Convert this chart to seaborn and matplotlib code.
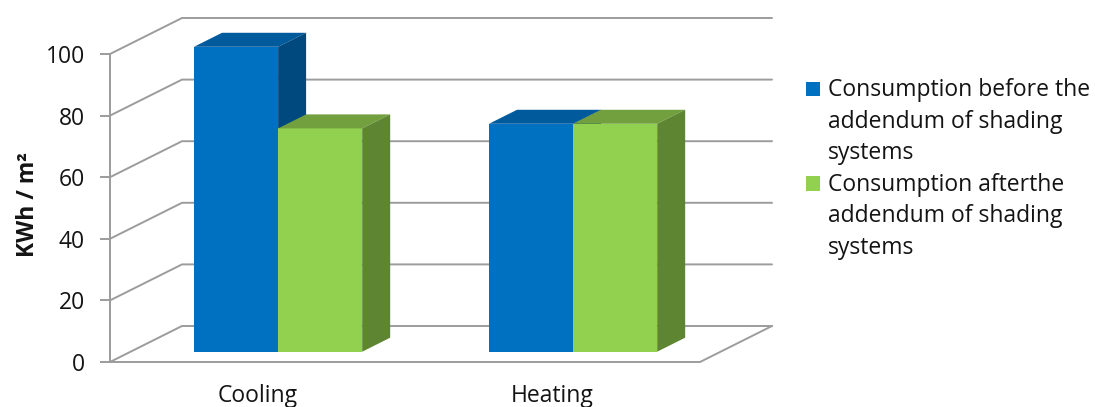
import matplotlib
matplotlib.use("Agg")
import matplotlib.pyplot as plt
from matplotlib.patches import Polygon, Rectangle
from matplotlib.lines import Line2D
from matplotlib.transforms import IdentityTransform
import numpy as np
import pandas as pd
import seaborn as sns

# ---- data ----
categories = ["Cooling", "Heating"]
series = ["Consumption before the addendum of shading systems",
          "Consumption afterthe addendum of shading systems"]
legend_lines = [["Consumption before the", "addendum of shading", "systems"],
                ["Consumption afterthe", "addendum of shading", "systems"]]
before = [99, 74]
after = [72.5, 74]
y_ticks = [0, 20, 40, 60, 80, 100]
y_label = "KWh / m²"

# ---- styling ----
front_colors = ["#0070C0", "#92D050"]
top_colors = ["#005A9C", "#72A03E"]
side_colors = ["#00497F", "#5E8532"]
grid_color = "#9C9C9C"
text_color = "#141414"
font_size = 16.5

df = pd.DataFrame({
    "Use": categories * 2,
    "Series": [series[0]] * len(categories) + [series[1]] * len(categories),
    "KWh": before + after,
})

sns.set_theme(style="white")
plt.rcParams["font.family"] = ["Open Sans", "DejaVu Sans"]

W, H = 1095, 407
fig = plt.figure(figsize=(W / 100, H / 100), dpi=100)

# pseudo-3D geometry, in pixels (y up)
front_left, front_bottom = 110, 45
plane_w, plane_h = 590, 308
bar_shift = np.array([20.6, 10.3])   # front plane -> bars' front faces
wall_shift = np.array([72.0, 36.0])  # front plane -> back wall
bar_depth = np.array([28.0, 14.0])

ax_front = fig.add_axes([front_left / W, front_bottom / H, plane_w / W, plane_h / H])
ax = fig.add_axes([(front_left + bar_shift[0]) / W, (front_bottom + bar_shift[1]) / H,
                   plane_w / W, plane_h / H])
ax_front.set_zorder(1)
ax.set_zorder(2)

# front plane: value axis and category labels
ax_front.set_xlim(-0.5, 1.5)
ax_front.set_ylim(0, 100)
ax_front.patch.set_alpha(0)
for side in ["top", "right", "bottom"]:
    ax_front.spines[side].set_visible(False)
ax_front.spines["left"].set_color(grid_color)
ax_front.spines["left"].set_linewidth(1.4)
ax_front.set_yticks(y_ticks)
ax_front.set_yticklabels([str(t) for t in y_ticks])
ax_front.tick_params(axis="y", direction="out", length=7.2, width=1.4, color=grid_color,
                     pad=11, labelsize=font_size, labelcolor=text_color, left=True)
ax_front.set_xticks(range(len(categories)))
ax_front.set_xticklabels(categories)
ax_front.tick_params(axis="x", length=0, pad=16, labelsize=font_size, labelcolor=text_color)
ax_front.set_ylabel(y_label, fontsize=font_size, fontweight="bold", color=text_color)
ax_front.yaxis.set_label_coords(-0.139, 0.51)
ax_front.yaxis.label.set_verticalalignment("center")

# back wall, side wall and floor lines
ident = IdentityTransform()
for t in y_ticks:
    p0 = ax_front.transData.transform((-0.5, t))
    p1 = p0 + wall_shift
    p2 = ax_front.transData.transform((1.5, t)) + wall_shift
    xs, ys = zip(p0, p1, p2)
    ax_front.add_line(Line2D(xs, ys, transform=ident, color=grid_color, lw=1.4,
                             clip_on=False, zorder=1))
f0 = ax_front.transData.transform((-0.5, 0))
f1 = ax_front.transData.transform((1.5, 0))
f2 = f1 + wall_shift
xs, ys = zip(f0, f1, f2)
ax_front.add_line(Line2D(xs, ys, transform=ident, color=grid_color, lw=1.4,
                         clip_on=False, zorder=1))

# bars: front faces by seaborn, top and side faces from the same bar geometry
sns.barplot(data=df, x="Use", y="KWh", hue="Series", order=categories, hue_order=series,
            palette=front_colors, saturation=1, width=0.57, gap=0, legend=False,
            linewidth=0, ax=ax)
ax.set_xlim(-0.5, 1.5)
ax.set_ylim(0, 100)
ax.set_axis_off()

bars = []
for hi, cont in enumerate(ax.containers):
    for p in cont.patches:
        bars.append((p.get_x(), hi, p))
bars.sort(key=lambda b: b[0])

for k, (_, hi, p) in enumerate(bars):
    x0 = p.get_x()
    x1 = x0 + p.get_width()
    h = p.get_height()
    tl = ax.transData.transform((x0, h))
    tr = ax.transData.transform((x1, h))
    br = ax.transData.transform((x1, 0))
    p.set_zorder(2 + 3 * k)
    top = Polygon([tl, tr, tr + bar_depth, tl + bar_depth], closed=True,
                  facecolor=top_colors[hi], edgecolor="none", transform=ident,
                  clip_on=False, zorder=3 + 3 * k)
    side = Polygon([br, tr, tr + bar_depth, br + bar_depth], closed=True,
                   facecolor=side_colors[hi], edgecolor="none", transform=ident,
                   clip_on=False, zorder=3 + 3 * k)
    ax.add_patch(top)
    ax.add_patch(side)

# legend
first_baseline = 96
line_step = 31.6
row = 0
for si, lines in enumerate(legend_lines):
    base = first_baseline + row * line_step
    fig.add_artist(Rectangle((806, H - base), 14, 14.5, transform=ident,
                             facecolor=front_colors[si], edgecolor="none"))
    for line in lines:
        y = first_baseline + row * line_step
        fig.text(828 / W, (H - y) / H, line, ha="left", va="baseline",
                 fontsize=font_size, color=text_color)
        row += 1

fig.savefig("out.png", dpi=100)
